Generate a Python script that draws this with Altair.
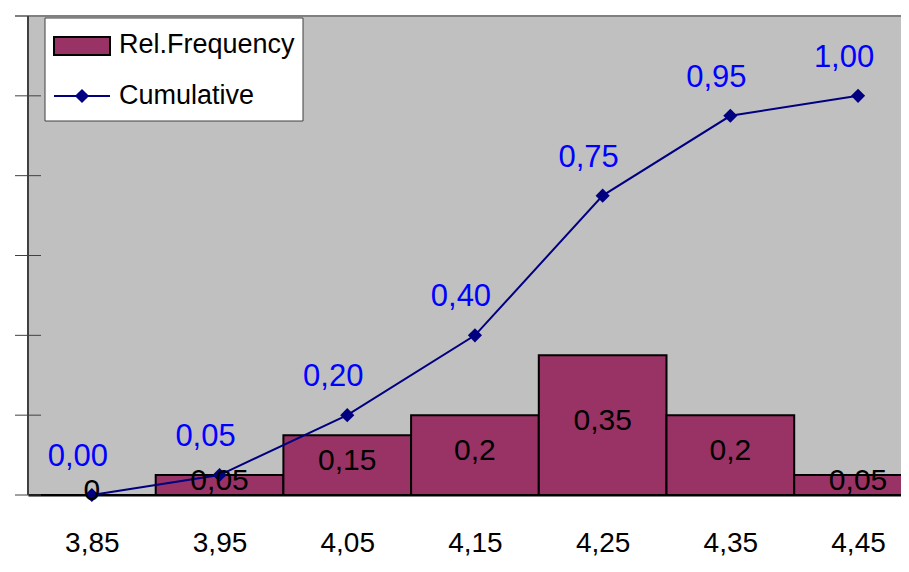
import altair as alt
import pandas as pd

# ---- data ----
bins = [3.85, 3.95, 4.05, 4.15, 4.25, 4.35, 4.45]
rel_freq = [0.0, 0.05, 0.15, 0.2, 0.35, 0.2, 0.05]
cumulative = [0.00, 0.05, 0.20, 0.40, 0.75, 0.95, 1.00]
rel_labels = ["0", "0,05", "0,15", "0,2", "0,35", "0,2", "0,05"]
cum_labels = ["0,00", "0,05", "0,20", "0,40", "0,75", "0,95", "1,00"]
bin_edges = [3.80, 3.90, 4.00, 4.10, 4.20, 4.30, 4.40, 4.50]
y_ticks = [0.0, 0.2, 0.4, 0.6, 0.8, 1.0]
y_top = 1.2
half_width = 0.05

FONT = "Liberation Sans"
W, H = 873, 479

df = pd.DataFrame({
    "bin": bins,
    "lo": [b - half_width for b in bins],
    "hi": [b + half_width for b in bins],
    "rel": rel_freq,
    "mid": [r / 2 for r in rel_freq],
    "cum": cumulative,
    "rel_label": rel_labels,
    "cum_label": cum_labels,
})
edges_df = pd.DataFrame({"edge": bin_edges})
yt_df = pd.DataFrame({"y": y_ticks})
top_df = pd.DataFrame({"y": [y_top]})
one = pd.DataFrame({"k": [0]})

xscale = alt.Scale(domain=[3.80, 3.80 + W / 1277.0], nice=False, zero=False)
yscale = alt.Scale(domain=[0, y_top], nice=False, zero=True)

base = alt.Chart(df)

bars = base.mark_rect(fill="#993366", stroke="black", strokeWidth=2, clip=True).encode(
    x=alt.X("lo:Q", scale=xscale,
            axis=alt.Axis(values=bins, title=None, grid=False, ticks=False, tickSize=0,
                          domain=True, domainColor="black", domainWidth=2,
                          labelExpr="replace(format(datum.value, '.2f'), '.', ',')",
                          labelFont=FONT, labelFontSize=28, labelColor="black",
                          labelPadding=34)),
    x2="hi:Q",
    y=alt.Y("rel:Q", scale=yscale, axis=None),
    y2=alt.datum(0),
)

line = base.mark_line(color="#000080", strokeWidth=2).encode(
    x=alt.X("bin:Q", scale=xscale),
    y=alt.Y("cum:Q", scale=yscale),
)
points = base.mark_point(shape="diamond", filled=True, size=200, color="#000080", opacity=1).encode(
    x=alt.X("bin:Q", scale=xscale),
    y=alt.Y("cum:Q", scale=yscale),
)
cum_text = base.mark_text(font=FONT, fontSize=31, color="#0000FF", dx=-14, dy=-38,
                          baseline="middle", align="center").encode(
    x=alt.X("bin:Q", scale=xscale),
    y=alt.Y("cum:Q", scale=yscale),
    text="cum_label:N",
)
rel_text = base.mark_text(font=FONT, fontSize=30, color="black", dy=-4,
                          baseline="middle", align="center").encode(
    x=alt.X("bin:Q", scale=xscale),
    y=alt.Y("mid:Q", scale=yscale),
    text="rel_label:N",
)

# axis decorations
x_ticks = alt.Chart(edges_df).mark_rule(color="#808080", strokeWidth=1, clip=True).encode(
    x=alt.X("edge:Q", scale=xscale),
    y=alt.value(H),
    y2=alt.value(H + 9),
)
y_tick_rules = alt.Chart(yt_df).mark_rule(color="#404040", strokeWidth=1).encode(
    y=alt.Y("y:Q", scale=yscale),
    x=alt.value(-13),
    x2=alt.value(13),
)
top_rule = alt.Chart(top_df).mark_rule(color="#808080", strokeWidth=2).encode(
    y=alt.Y("y:Q", scale=yscale),
    x=alt.value(-13),
    x2=alt.value(W),
)
left_axis = alt.Chart(one).mark_rule(color="#404040", strokeWidth=2).encode(
    x=alt.value(0),
    y=alt.value(0),
    y2=alt.value(H),
)

# legend
leg_box = alt.Chart(one).mark_rect(fill="white", stroke="#404040", strokeWidth=1).encode(
    x=alt.value(17), x2=alt.value(275), y=alt.value(2), y2=alt.value(105),
)
leg_bar = alt.Chart(one).mark_rect(fill="#993366", stroke="black", strokeWidth=2).encode(
    x=alt.value(26), x2=alt.value(82), y=alt.value(21), y2=alt.value(39),
)
leg_line = alt.Chart(one).mark_rule(color="#000080", strokeWidth=2).encode(
    x=alt.value(26), x2=alt.value(82), y=alt.value(80),
)
leg_pt = alt.Chart(one).mark_point(shape="diamond", filled=True, size=200, color="#000080", opacity=1).encode(
    x=alt.value(54), y=alt.value(80),
)
leg_t1 = alt.Chart(one).mark_text(text="Rel.Frequency", font=FONT, fontSize=27, color="black",
                                  align="left", baseline="middle").encode(
    x=alt.value(91), y=alt.value(29),
)
leg_t2 = alt.Chart(one).mark_text(text="Cumulative", font=FONT, fontSize=27, color="black",
                                  align="left", baseline="middle").encode(
    x=alt.value(91), y=alt.value(80),
)

chart = alt.layer(
    bars, x_ticks, line, points, cum_text, rel_text,
    y_tick_rules, top_rule, left_axis,
    leg_box, leg_bar, leg_line, leg_pt, leg_t1, leg_t2,
).properties(
    width=W, height=H,
    autosize=alt.AutoSizeParams(type="none"),
    padding={"left": 20, "top": 8, "right": 0, "bottom": 70},
    background="white",
).configure_view(fill="#C0C0C0", stroke=None)

chart.save("out.html", embed_options={"renderer": "svg", "actions": False})
